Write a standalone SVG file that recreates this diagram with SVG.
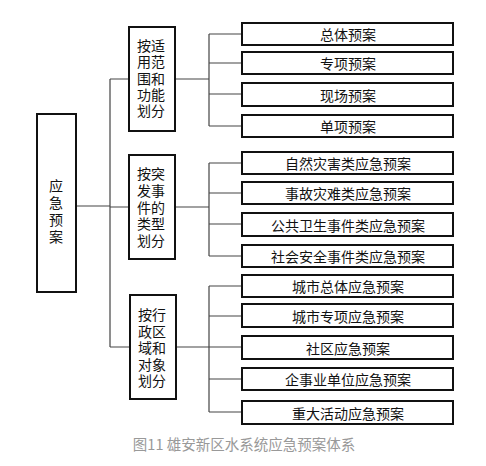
<svg xmlns="http://www.w3.org/2000/svg" width="486" height="466" viewBox="0 0 486 466">
<style>
.box{fill:#fff;stroke:#111;stroke-width:2}
.leaf{fill:#fff;stroke:#111;stroke-width:2}
.t{font-family:"Noto Sans CJK SC","Noto Sans",sans-serif;font-size:14px;fill:#111;text-anchor:middle;dominant-baseline:central}
.c{fill:none;stroke:#444;stroke-width:1.2}
.cap{font-family:"Noto Sans CJK SC","Noto Sans",sans-serif;font-size:14.5px;fill:#999;text-anchor:middle;dominant-baseline:central}
</style>
<rect width="486" height="466" fill="#fff"/>
<g id="connectors">
<path class="c" d="M76 206H110M110 79V347M110 79H129M110 207H129M110 347H130"/>
<path class="c" d="M175 79H209M209 34V126M209 34H242M209 63H242M209 94H242M209 126H242"/>
<path class="c" d="M175 207H209M209 163V256M209 163H242M209 193H242M209 224H242M209 256H242"/>
<path class="c" d="M176 347H209M209 286V412M209 286H242M209 316H242M209 347H242M209 379H242M209 412H242"/>
</g>
<g id="root">
<rect class="box" x="37" y="114" width="39" height="178"/>
<text class="t" x="56" y="185">应</text>
<text class="t" x="56" y="202">急</text>
<text class="t" x="56" y="219">预</text>
<text class="t" x="56" y="236">案</text>
</g>
<g id="cat1">
<rect class="box" x="129" y="27" width="46" height="104"/>
<text class="t" x="144" y="45">按</text><text class="t" x="158" y="45">适</text>
<text class="t" x="144" y="61">用</text><text class="t" x="158" y="61">范</text>
<text class="t" x="144" y="78">围</text><text class="t" x="158" y="78">和</text>
<text class="t" x="144" y="94">功</text><text class="t" x="158" y="94">能</text>
<text class="t" x="144" y="110">划</text><text class="t" x="158" y="110">分</text>
</g>
<g id="cat2">
<rect class="box" x="129" y="155" width="46" height="104"/>
<text class="t" x="144" y="173">按</text><text class="t" x="158" y="173">突</text>
<text class="t" x="144" y="190">发</text><text class="t" x="158" y="190">事</text>
<text class="t" x="144" y="207">件</text><text class="t" x="158" y="207">的</text>
<text class="t" x="144" y="223">类</text><text class="t" x="158" y="223">型</text>
<text class="t" x="144" y="240">划</text><text class="t" x="158" y="240">分</text>
</g>
<g id="cat3">
<rect class="box" x="130" y="295" width="46" height="104"/>
<text class="t" x="145" y="314">按</text><text class="t" x="159" y="314">行</text>
<text class="t" x="145" y="331">政</text><text class="t" x="159" y="331">区</text>
<text class="t" x="145" y="347">域</text><text class="t" x="159" y="347">和</text>
<text class="t" x="145" y="364">对</text><text class="t" x="159" y="364">象</text>
<text class="t" x="145" y="380">划</text><text class="t" x="159" y="380">分</text>
</g>
<g id="leaf1"><rect class="leaf" x="242" y="23" width="211" height="22"/><text class="t" x="348" y="34">总体预案</text></g>
<g id="leaf2"><rect class="leaf" x="242" y="52" width="211" height="22"/><text class="t" x="348" y="63">专项预案</text></g>
<g id="leaf3"><rect class="leaf" x="242" y="83" width="211" height="23"/><text class="t" x="348" y="94.5">现场预案</text></g>
<g id="leaf4"><rect class="leaf" x="242" y="115" width="211" height="22"/><text class="t" x="348" y="126">单项预案</text></g>
<g id="leaf5"><rect class="leaf" x="242" y="152" width="211" height="22"/><text class="t" x="348" y="163">自然灾害类应急预案</text></g>
<g id="leaf6"><rect class="leaf" x="242" y="182" width="211" height="22"/><text class="t" x="348" y="193">事故灾难类应急预案</text></g>
<g id="leaf7"><rect class="leaf" x="242" y="213" width="211" height="23"/><text class="t" x="348" y="224.5">公共卫生事件类应急预案</text></g>
<g id="leaf8"><rect class="leaf" x="242" y="245" width="211" height="22"/><text class="t" x="348" y="256">社会安全事件类应急预案</text></g>
<g id="leaf9"><rect class="leaf" x="242" y="275" width="211" height="22"/><text class="t" x="348" y="286">城市总体应急预案</text></g>
<g id="leaf10"><rect class="leaf" x="242" y="304" width="211" height="23"/><text class="t" x="348" y="315.5">城市专项应急预案</text></g>
<g id="leaf11"><rect class="leaf" x="242" y="336" width="211" height="23"/><text class="t" x="348" y="347.5">社区应急预案</text></g>
<g id="leaf12"><rect class="leaf" x="242" y="368" width="211" height="22"/><text class="t" x="348" y="379">企事业单位应急预案</text></g>
<g id="leaf13"><rect class="leaf" x="242" y="401" width="211" height="23"/><text class="t" x="348" y="412.5">重大活动应急预案</text></g>
<text class="cap" x="244" y="443">图11 雄安新区水系统应急预案体系</text>
</svg>
